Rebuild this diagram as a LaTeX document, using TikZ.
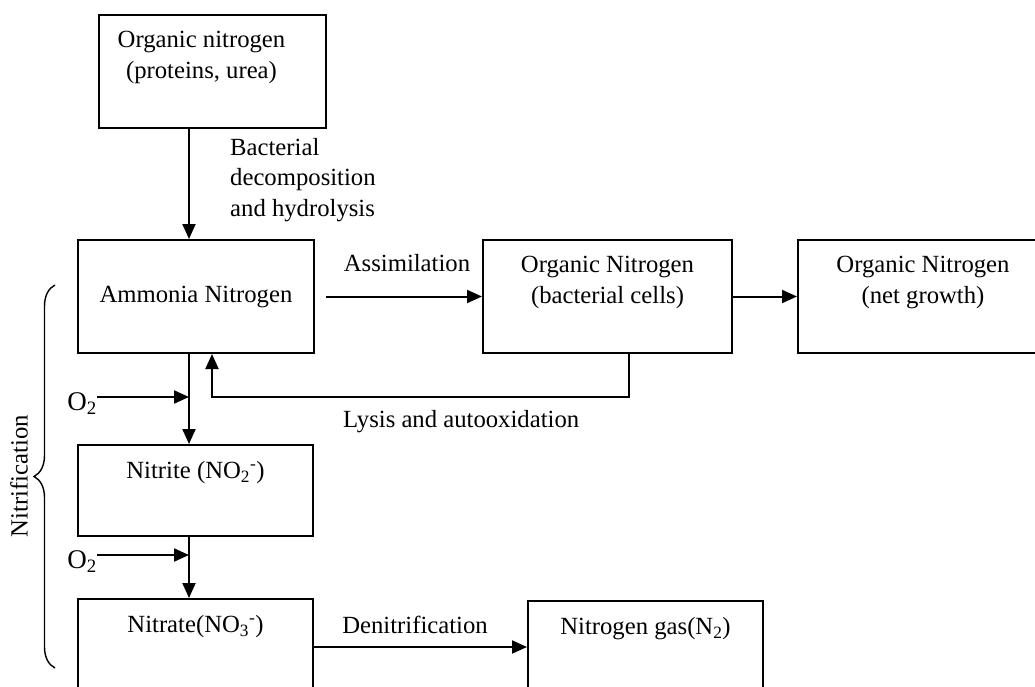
\documentclass[tikz,border=0pt]{standalone}
\usepackage{fontspec}
\setmainfont{Liberation Serif}
\usetikzlibrary{arrows.meta,decorations.pathreplacing}
\begin{document}
\begin{tikzpicture}[x=1pt,y=-1pt,
    font=\fontsize{24.7}{30.5}\selectfont,
    box/.style={draw, line width=2pt, anchor=north west, inner sep=0pt},
    intext/.style={label={[anchor=north, align=center, inner sep=0pt, yshift=-17pt]north:#1}},
    arr/.style={line width=2pt, -{Triangle[length=15pt,width=13pt]}},
    oxy/.style={anchor=east, font=\fontsize{27}{30}\selectfont, inner sep=0pt}]
  \clip (0,0) rectangle (1035,687);

  % cajas
  \node[box, minimum width=227pt, minimum height=113pt,
        label={[anchor=north, align=center, inner sep=0pt, yshift=-17pt, xshift=-11pt]north:Organic nitrogen\\(proteins, urea)}] (orgN) at (98,14) {};
  \node[box, minimum width=236pt, minimum height=113pt] (amm) at (77,239) {Ammonia Nitrogen};
  \node[box, minimum width=249pt, minimum height=113pt, intext={Organic Nitrogen\\(bacterial cells)}] (bact) at (482,239) {};
  \node[box, minimum width=250pt, minimum height=113pt, intext={Organic Nitrogen\\(net growth)}] (net) at (797,239) {};
  \node[box, minimum width=235pt, minimum height=91pt, intext={Nitrite (NO\textsubscript{2}\textsuperscript{-})}] (nitrite) at (77,444) {};
  \node[box, minimum width=235pt, minimum height=96pt, intext={Nitrate(NO\textsubscript{3}\textsuperscript{-})}] (nitrate) at (77,598) {};
  \node[box, minimum width=235pt, minimum height=92pt, intext={Nitrogen gas(N\textsubscript{2})}] (gas) at (527,600) {};

  % etiquetas
  \node[anchor=west, align=left, inner sep=0pt] (decomp) at (230,180) {Bacterial\\decomposition\\and hydrolysis};
  \node (assim) at (407,263) {Assimilation};
  \node[anchor=west, inner sep=0pt] (lysis) at (343,422) {Lysis and autooxidation};
  \node (denit) at (415,625) {Denitrification};
  \node[oxy] (oxA) at (97,404) {O\textsubscript{2}};
  \node[oxy] (oxB) at (97,562) {O\textsubscript{2}};

  % flechas
  \coordinate (col) at (189,0);
  \coordinate (inA) at (189,397);
  \coordinate (inB) at (189,555);
  \draw[arr] (orgN.south -| col) -- (amm.north -| col);
  \draw[arr] (amm.south -| col) -- (nitrite.north -| col);
  \draw[arr] (nitrite.south -| col) -- (nitrate.north -| col);
  \draw[arr] (oxA.east |- inA) -- (inA);
  \draw[arr] (oxB.east |- inB) -- (inB);
  \draw[arr] ([xshift=11pt]amm.east) -- (bact.west);
  \draw[arr] (bact.east) -- (net.west);
  \draw[arr] (nitrate.east) -- (gas.west);

  % lisis
  \coordinate (fbR) at (629,397);
  \coordinate (fbL) at (212,397);
  \draw[arr] (bact.south -| fbR) -- (fbR) -- (fbL) -- (amm.south -| fbL);

  % nitrificacion
  \draw[line width=1.4pt, decorate, decoration={brace, amplitude=21pt}] (55,668) -- (55,285);
  \node[rotate=90] (nitrif) at (19,476) {Nitrification};
\end{tikzpicture}
\end{document}
